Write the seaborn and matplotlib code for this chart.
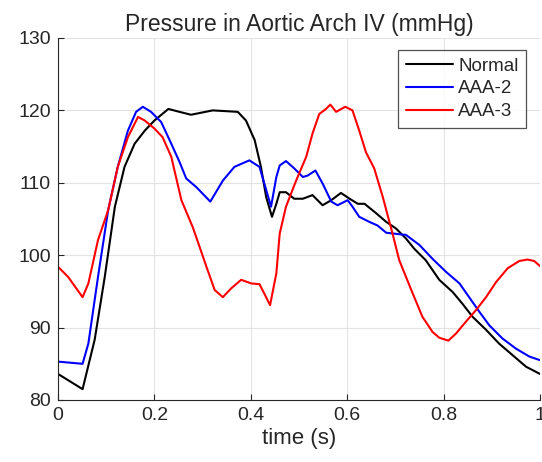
import matplotlib
matplotlib.use("Agg")
import matplotlib.pyplot as plt
import seaborn as sns
import pandas as pd

series_names = ["Normal", "AAA-2", "AAA-3"]
series_colors = ["#000000", "#0000ff", "#ff0000"]

t_normal = [0, 0.051, 0.076, 0.097, 0.118, 0.138, 0.159, 0.18, 0.2, 0.229, 0.252, 0.276, 0.321,
            0.373, 0.39, 0.408, 0.421, 0.432, 0.444, 0.453, 0.46, 0.473, 0.49, 0.508, 0.528,
            0.549, 0.567, 0.587, 0.605, 0.622, 0.636, 0.66, 0.681, 0.701, 0.722, 0.739, 0.763,
            0.791, 0.819, 0.839, 0.86, 0.888, 0.915, 0.943, 0.971, 1.0]
p_normal = [83.6, 81.5, 88.3, 97.0, 106.7, 112.2, 115.4, 117.2, 118.6, 120.2, 119.8, 119.4, 120.0,
            119.8, 118.6, 115.9, 112.2, 108.0, 105.3, 107.1, 108.7, 108.7, 107.8, 107.8, 108.3,
            106.9, 107.6, 108.6, 107.8, 107.1, 107.1, 105.8, 104.6, 103.7, 102.3, 100.9, 99.3,
            96.6, 94.9, 93.3, 91.5, 89.7, 87.8, 86.2, 84.6, 83.6]

t_aaa2 = [0, 0.051, 0.063, 0.083, 0.104, 0.124, 0.145, 0.162, 0.176, 0.193, 0.214, 0.235, 0.252,
          0.266, 0.287, 0.316, 0.342, 0.366, 0.397, 0.418, 0.432, 0.442, 0.453, 0.46, 0.473,
          0.49, 0.508, 0.518, 0.534, 0.549, 0.567, 0.58, 0.601, 0.611, 0.625, 0.646, 0.663,
          0.681, 0.708, 0.722, 0.75, 0.777, 0.805, 0.833, 0.853, 0.874, 0.895, 0.922, 0.95,
          0.978, 1.0]
p_aaa2 = [85.3, 85.0, 87.8, 97.0, 106.2, 112.2, 117.2, 119.8, 120.5, 119.8, 118.4, 115.4, 112.9,
          110.6, 109.4, 107.4, 110.3, 112.2, 113.1, 112.2, 109.0, 106.7, 110.8, 112.4, 113.0,
          112.0, 110.8, 111.0, 111.7, 109.9, 107.4, 106.9, 107.6, 106.7, 105.3, 104.6, 104.1,
          103.1, 102.9, 102.8, 101.4, 99.5, 97.7, 96.1, 94.2, 92.2, 90.3, 88.5, 87.1, 86.0, 85.5]

t_aaa3 = [0, 0.021, 0.051, 0.063, 0.083, 0.104, 0.124, 0.145, 0.166, 0.18, 0.2, 0.217, 0.235,
          0.256, 0.28, 0.308, 0.325, 0.342, 0.359, 0.38, 0.401, 0.418, 0.428, 0.44, 0.453, 0.46,
          0.473, 0.494, 0.515, 0.528, 0.542, 0.556, 0.565, 0.577, 0.596, 0.611, 0.625, 0.639,
          0.656, 0.674, 0.694, 0.708, 0.736, 0.756, 0.777, 0.791, 0.81, 0.826, 0.846, 0.867,
          0.888, 0.909, 0.933, 0.957, 0.974, 0.988, 1.0]
p_aaa3 = [98.4, 97.0, 94.2, 96.1, 102.1, 106.2, 112.2, 116.3, 119.1, 118.6, 117.5, 116.3, 113.6,
          107.6, 103.8, 98.4, 95.2, 94.2, 95.4, 96.6, 96.1, 96.0, 94.7, 93.1, 97.5, 103.0,
          106.7, 110.3, 113.6, 116.8, 119.5, 120.2, 120.8, 119.8, 120.5, 120.0, 117.2, 114.2,
          112.0, 108.0, 103.0, 99.3, 94.7, 91.5, 89.4, 88.6, 88.2, 89.2, 90.8, 92.4, 94.2,
          96.3, 98.2, 99.2, 99.4, 99.2, 98.5]

x_ticks = [0, 0.2, 0.4, 0.6, 0.8, 1]
x_ticklabels = ["0", "0.2", "0.4", "0.6", "0.8", "1"]
y_ticks = [80, 90, 100, 110, 120, 130]

frames = []
for name, t, p in zip(series_names, [t_normal, t_aaa2, t_aaa3], [p_normal, p_aaa2, p_aaa3]):
    frames.append(pd.DataFrame({"time": t, "pressure": p, "series": name}))
df = pd.concat(frames, ignore_index=True)

sns.set_theme(style="whitegrid")
plt.rcParams["font.family"] = ["Liberation Sans", "DejaVu Sans"]

fig = plt.figure(figsize=(5.42, 4.62), dpi=100)
ax = fig.add_axes([58 / 542, 1 - 400 / 462, 482 / 542, 362 / 462])

sns.lineplot(data=df, x="time", y="pressure", hue="series", hue_order=series_names,
             palette=series_colors, linewidth=1.5, ax=ax, sort=True, estimator=None)
for ln in ax.get_lines():
    ln.set_solid_joinstyle("round")

ax.set_xlim(0, 1)
ax.set_ylim(80, 130)
ax.set_xticks(x_ticks)
ax.set_xticklabels(x_ticklabels)
ax.set_yticks(y_ticks)
ax.tick_params(axis="both", labelsize=14, direction="in", length=4, width=0.8,
               colors="#262626", bottom=True, left=True, pad=5)
ax.grid(True, color="#e3e3e3", linewidth=0.8)
for side in ["top", "right"]:
    ax.spines[side].set_visible(False)
for side in ["left", "bottom"]:
    ax.spines[side].set_color("#262626")
    ax.spines[side].set_linewidth(0.8)

ax.set_title("Pressure in Aortic Arch IV (mmHg)", fontsize=16.5, color="#262626", pad=5)
ax.set_xlabel("time (s)", fontsize=16, color="#262626", labelpad=3)
ax.set_ylabel("")

leg = ax.legend(loc="upper right", fontsize=13.5, frameon=True, fancybox=False,
                edgecolor="#262626", handlelength=2.5, borderpad=0.4, labelspacing=0.3,
                handletextpad=0.3, borderaxespad=0, bbox_to_anchor=(0.971, 0.967))
leg.get_frame().set_linewidth(0.9)
for line in leg.get_lines():
    line.set_linewidth(1.5)

fig.savefig("out.png", dpi=100, facecolor="white")
